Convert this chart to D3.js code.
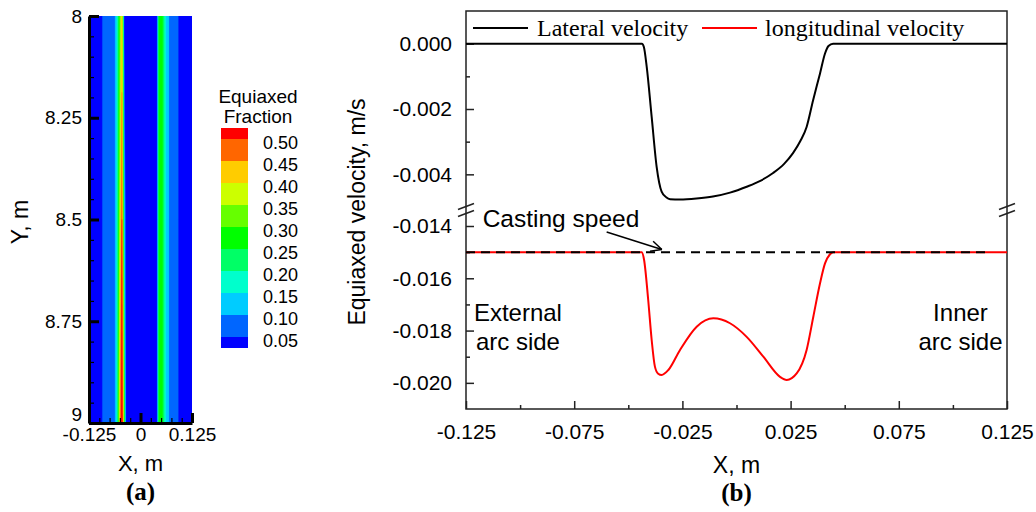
<!DOCTYPE html>
<html>
<head>
<meta charset="utf-8">
<script src="https://cdn.jsdelivr.net/npm/d3@7"></script>
<style>
  html, body { margin: 0; padding: 0; background: #fff; }
  svg { display: block; }
  text { font-family: "Liberation Sans", Arial, sans-serif; fill: #000; }
  .serif { font-family: "Liberation Serif", "Times New Roman", serif; }
</style>
</head>
<body>
<svg id="fig" width="1036" height="512"></svg>
<script>
// ---------------- Panel (a): equiaxed fraction field ----------------
// Field sampled on a regular grid: x from -0.125 m in 0.005 m steps, rows at Y = 8, 8.5, 9 m
const fieldXStart = -0.125;
const fieldXStep = 0.005;
const fieldRowsY = [8, 8.5, 9];
const fractionY8 = [
  0.03, 0.03, 0.03, 0.03, 0.03, 0.035, 0.04, 0.06, 0.07, 0.075, 0.08, 0.085, 0.09, 0.105, 0.20, 0.31, 0.42, 0.04,
  0.02, 0.02, 0.02, 0.02, 0.02, 0.02, 0.02, 0.02, 0.02, 0.02, 0.02, 0.02, 0.02, 0.02, 0.02, 0.02,
  0.28, 0.28, 0.24, 0.16, 0.12, 0.095, 0.08, 0.075, 0.07, 0.055, 0.04, 0.03, 0.03, 0.03, 0.03, 0.03, 0.03
];
const fractionY85 = [
  0.03, 0.03, 0.03, 0.03, 0.03, 0.035, 0.04, 0.06, 0.07, 0.075, 0.08, 0.085, 0.09, 0.105, 0.21, 0.36, 0.50, 0.15,
  0.02, 0.02, 0.02, 0.02, 0.02, 0.02, 0.02, 0.02, 0.02, 0.02, 0.02, 0.02, 0.02, 0.02, 0.02, 0.02,
  0.28, 0.28, 0.24, 0.16, 0.12, 0.095, 0.08, 0.075, 0.07, 0.055, 0.04, 0.03, 0.03, 0.03, 0.03, 0.03, 0.03
];
const fractionY9 = [
  0.03, 0.03, 0.03, 0.03, 0.03, 0.035, 0.04, 0.06, 0.07, 0.075, 0.08, 0.085, 0.09, 0.105, 0.22, 0.42, 0.56, 0.30,
  0.02, 0.02, 0.02, 0.02, 0.02, 0.02, 0.02, 0.02, 0.02, 0.02, 0.02, 0.02, 0.02, 0.02, 0.02, 0.02,
  0.28, 0.28, 0.24, 0.16, 0.12, 0.095, 0.08, 0.075, 0.07, 0.055, 0.04, 0.03, 0.03, 0.03, 0.03, 0.03, 0.03
];
const fractionLevels = [0.05, 0.10, 0.15, 0.20, 0.25, 0.30, 0.35, 0.40, 0.45, 0.50];
// colour of the band below the first level, then of each band above a level
const fractionColors = ["#0000ff", "#0066ff", "#00ccff", "#00ffcc", "#00ff66", "#00ff00",
                        "#66ff00", "#ccff00", "#ffcc00", "#ff6600", "#ff0000"];
const fieldXTicks = [-0.125, 0, 0.125];
const fieldXMinor = [-0.1, -0.075, -0.05, -0.025, 0.025, 0.05, 0.075, 0.1];
const fieldYTicks = [8, 8.25, 8.5, 8.75, 9];
const fieldYMinor = [8.05, 8.1, 8.15, 8.2, 8.3, 8.35, 8.4, 8.45, 8.55, 8.6, 8.65, 8.7, 8.8, 8.85, 8.9, 8.95];

// ---------------- Panel (b): velocity profiles ----------------
const lateralX = [-0.125, -0.045, -0.0437, -0.0428, -0.0415, -0.0392, -0.0369, -0.0346, -0.0325, -0.0307,
  -0.0261, -0.0185, -0.0109, -0.003, 0.0047, 0.011, 0.0169, 0.022, 0.0261, 0.0295, 0.0324, 0.0354,
  0.0386, 0.0409, 0.0425, 0.0446, 0.125];
const lateralV = [0, 0, 0, -0.0001, -0.0007, -0.00224, -0.00377, -0.00453, -0.0047, -0.00476,
  -0.00477, -0.00474, -0.00468, -0.00456, -0.00438, -0.0042, -0.00396, -0.00368, -0.00335, -0.00298, -0.00255, -0.00173,
  -0.00091, -0.0003, -0.00007, 0, 0];
const longitudinalX = [-0.125, -0.0438, -0.0427, -0.0408, -0.0392, -0.0377, -0.0362, -0.0346, -0.0315, -0.0261,
  -0.0184, -0.0107, -0.003, 0.0047, 0.0124, 0.0201, 0.0232, 0.0278, 0.0324, 0.0355, 0.0386, 0.0409,
  0.0432, 0.0447, 0.125];
const longitudinalV = [-0.015, -0.015, -0.0153, -0.01683, -0.01836, -0.01938, -0.01965, -0.0197, -0.01951, -0.01874,
  -0.01785, -0.01753, -0.01772, -0.01824, -0.019, -0.01977, -0.01989, -0.01964, -0.01874, -0.01747, -0.01619, -0.01543,
  -0.01508, -0.015, -0.015];
const castingSpeed = -0.015;
const castingSpeedXEnd = 0.117;
const velXTicks = [-0.125, -0.075, -0.025, 0.025, 0.075, 0.125];
const velXMinor = [-0.1, -0.05, 0, 0.05, 0.1];
const velTopTicks = [0, -0.002, -0.004];
const velTopMinor = [-0.001, -0.003];
const velBotTicks = [-0.014, -0.016, -0.018, -0.020];
const velBotMinor = [-0.015, -0.017, -0.019];
const seriesNames = ["Lateral velocity", "longitudinal velocity"];
const seriesColors = ["#000000", "#ff0000"];

const svg = d3.select("#fig");
svg.append("rect").attr("width", 1036).attr("height", 512).attr("fill", "#fff");

// ===== Panel (a) =====
const A = { left: 89, right: 192, top: 16, bottom: 423 };
const xA = d3.scaleLinear().domain([-0.125, 0.125]).range([A.left, A.right]);
const yA = d3.scaleLinear().domain([8, 9]).range([A.top, A.bottom]);

svg.append("clipPath").attr("id", "clipA")
  .append("rect").attr("x", A.left).attr("y", A.top)
  .attr("width", A.right - A.left).attr("height", A.bottom - A.top);

const gField = svg.append("g").attr("clip-path", "url(#clipA)");
gField.append("rect").attr("x", A.left).attr("y", A.top)
  .attr("width", A.right - A.left).attr("height", A.bottom - A.top)
  .attr("fill", fractionColors[0]);

const nx = fractionY8.length, ny = fieldRowsY.length;
const fieldValues = [].concat(fractionY8, fractionY85, fractionY9);
const bands = d3.contours().size([nx, ny]).thresholds(fractionLevels)(fieldValues);
const rowStep = fieldRowsY[1] - fieldRowsY[0];
const gridToPlot = d3.geoTransform({
  point(gx, gy) {
    this.stream.point(xA(fieldXStart + (gx - 0.5) * fieldXStep),
                      yA(fieldRowsY[0] + (gy - 0.5) * rowStep));
  }
});
const fieldPath = d3.geoPath(gridToPlot);
gField.selectAll("path.band").data(bands).join("path")
  .attr("class", "band")
  .attr("d", fieldPath)
  .attr("fill", (d, i) => fractionColors[i + 1])
  .attr("stroke", (d, i) => fractionColors[i + 1])
  .attr("stroke-width", 0.3);

// axes of (a)
const axA = svg.append("g");
const yAxisA = d3.axisLeft(yA).tickValues(fieldYTicks).tickSizeInner(-10).tickSizeOuter(0)
  .tickPadding(7).tickFormat(d => String(d));
const gyA = axA.append("g").attr("transform", `translate(${A.left},0)`).call(yAxisA);
gyA.selectAll(".tick line").attr("stroke", "#000").attr("stroke-width", 3);
// lift the bottom label so it clears the x tick labels
gyA.selectAll(".tick text").filter(d => d === 9).attr("dy", "-0.15em");
axA.append("g").attr("transform", `translate(${A.left},0)`)
  .call(d3.axisLeft(yA).tickValues(fieldYMinor).tickSizeInner(-5).tickSizeOuter(0).tickFormat(() => ""))
  .call(g => g.select(".domain").remove())
  .selectAll(".tick line").attr("stroke", "#000").attr("stroke-width", 1.2);
const xAxisA = d3.axisBottom(xA).tickValues(fieldXTicks).tickSizeInner(-10).tickSizeOuter(0)
  .tickPadding(5).tickFormat(d => d === 0 ? "0" : d.toFixed(3));
const gxA = axA.append("g").attr("transform", `translate(0,${A.bottom})`).call(xAxisA);
gxA.selectAll(".tick line").attr("stroke", "#000").attr("stroke-width", 3);
axA.append("g").attr("transform", `translate(0,${A.bottom})`)
  .call(d3.axisBottom(xA).tickValues(fieldXMinor).tickSizeInner(-5).tickSizeOuter(0).tickFormat(() => ""))
  .call(g => g.select(".domain").remove())
  .selectAll(".tick line").attr("stroke", "#000").attr("stroke-width", 1.2);
[gyA, gxA].forEach(g => {
  g.select(".domain").attr("stroke", "#000").attr("stroke-width", 3);
  g.selectAll("text").attr("font-size", 19).attr("font-family", "Liberation Sans, Arial, sans-serif");
});

svg.append("text").attr("x", (A.left + A.right) / 2).attr("y", 471)
  .attr("text-anchor", "middle").attr("font-size", 22).text("X, m");
svg.append("text").attr("transform", `translate(28,222) rotate(-90)`)
  .attr("text-anchor", "middle").attr("font-size", 23).text("Y, m");
svg.append("text").attr("class", "serif").attr("x", (A.left + A.right) / 2).attr("y", 500)
  .attr("text-anchor", "middle").attr("font-size", 25).attr("font-weight", "bold").text("(a)");

// colour bar of (a)
const cbY = d3.scaleLinear().domain([0.025, 0.525]).range([348, 128]);
const cbEdges = [0.025].concat(fractionLevels, [0.525]);
const gcb = svg.append("g");
gcb.selectAll("rect").data(fractionColors).join("rect")
  .attr("x", 221).attr("width", 27)
  .attr("y", (c, i) => cbY(cbEdges[i + 1]))
  .attr("height", (c, i) => cbY(cbEdges[i]) - cbY(cbEdges[i + 1]))
  .attr("fill", c => c);
gcb.selectAll("text.lvl").data(fractionLevels).join("text")
  .attr("class", "lvl").attr("x", 263).attr("y", d => cbY(d) + 10)
  .attr("font-size", 18).text(d => d.toFixed(2));
gcb.append("text").attr("x", 258).attr("y", 103).attr("text-anchor", "middle")
  .attr("font-size", 19).text("Equiaxed");
gcb.append("text").attr("x", 258).attr("y", 123).attr("text-anchor", "middle")
  .attr("font-size", 19).text("Fraction");

// ===== Panel (b) =====
const B = { left: 466, right: 1007, top: 11, bottom: 409 };
const xB = d3.scaleLinear().domain([-0.125, 0.125]).range([B.left, B.right]);
const yTop = d3.scaleLinear().domain([-0.005, 0.001]).range([207, B.top]);
const yBot = d3.scaleLinear().domain([-0.021, -0.014]).range([B.bottom, 226]);
const breakY = yTop(-0.005) + 3;

svg.append("rect").attr("x", B.left).attr("y", B.top)
  .attr("width", B.right - B.left).attr("height", B.bottom - B.top)
  .attr("fill", "none").attr("stroke", "#222").attr("stroke-width", 1.5);

const fmt3 = d => d.toFixed(3);
function styleAxis(g, size) {
  g.select(".domain").remove();
  g.selectAll(".tick line").attr("stroke", "#222").attr("stroke-width", 1.5);
  g.selectAll("text").attr("font-size", size).attr("font-family", "Liberation Sans, Arial, sans-serif");
}
svg.append("g").attr("transform", `translate(${B.left},0)`)
  .call(d3.axisLeft(yTop).tickValues(velTopTicks).tickSizeInner(-8).tickSizeOuter(0).tickPadding(14).tickFormat(fmt3))
  .call(g => styleAxis(g, 21));
svg.append("g").attr("transform", `translate(${B.left},0)`)
  .call(d3.axisLeft(yTop).tickValues(velTopMinor).tickSizeInner(-4).tickSizeOuter(0).tickFormat(() => ""))
  .call(g => styleAxis(g, 21));
svg.append("g").attr("transform", `translate(${B.left},0)`)
  .call(d3.axisLeft(yBot).tickValues(velBotTicks).tickSizeInner(-8).tickSizeOuter(0).tickPadding(14).tickFormat(fmt3))
  .call(g => styleAxis(g, 21));
svg.append("g").attr("transform", `translate(${B.left},0)`)
  .call(d3.axisLeft(yBot).tickValues(velBotMinor).tickSizeInner(-4).tickSizeOuter(0).tickFormat(() => ""))
  .call(g => styleAxis(g, 21));
svg.append("g").attr("transform", `translate(0,${B.bottom})`)
  .call(d3.axisBottom(xB).tickValues(velXTicks).tickSizeInner(-8).tickSizeOuter(0).tickPadding(15).tickFormat(fmt3))
  .call(g => styleAxis(g, 21));
svg.append("g").attr("transform", `translate(0,${B.bottom})`)
  .call(d3.axisBottom(xB).tickValues(velXMinor).tickSizeInner(-4).tickSizeOuter(0).tickFormat(() => ""))
  .call(g => styleAxis(g, 21));

// axis break marks on both vertical axes
[B.left, B.right].forEach(ax => {
  [-3.5, 3.5].forEach(off => {
    svg.append("line")
      .attr("x1", ax - 8).attr("y1", breakY + off + 3)
      .attr("x2", ax + 8).attr("y2", breakY + off - 3)
      .attr("stroke", "#222").attr("stroke-width", 1.5);
  });
});

// curves
const lateralLine = d3.line().x(d => xB(d[0])).y(d => yTop(d[1])).curve(d3.curveMonotoneX);
const longitudinalLine = d3.line().x(d => xB(d[0])).y(d => yBot(d[1])).curve(d3.curveMonotoneX);
svg.append("path").datum(d3.zip(lateralX, lateralV)).attr("d", lateralLine)
  .attr("fill", "none").attr("stroke", seriesColors[0]).attr("stroke-width", 2);
svg.append("path").datum(d3.zip(longitudinalX, longitudinalV)).attr("d", longitudinalLine)
  .attr("fill", "none").attr("stroke", seriesColors[1]).attr("stroke-width", 2);

// casting speed reference
svg.append("line")
  .attr("x1", xB(-0.125)).attr("x2", xB(castingSpeedXEnd))
  .attr("y1", yBot(castingSpeed)).attr("y2", yBot(castingSpeed))
  .attr("stroke", "#000").attr("stroke-width", 2).attr("stroke-dasharray", "9,6");

// annotation arrow
const arrowFrom = [xB(-0.0600), yBot(-0.01423)];
const arrowTo = [xB(-0.0345), yBot(-0.0149)];
svg.append("line").attr("x1", arrowFrom[0]).attr("y1", arrowFrom[1])
  .attr("x2", arrowTo[0]).attr("y2", arrowTo[1]).attr("stroke", "#000").attr("stroke-width", 1.5);
const ang = Math.atan2(arrowTo[1] - arrowFrom[1], arrowTo[0] - arrowFrom[0]);
[0.45, -0.45].forEach(da => {
  svg.append("line").attr("x1", arrowTo[0]).attr("y1", arrowTo[1])
    .attr("x2", arrowTo[0] - 12 * Math.cos(ang + da)).attr("y2", arrowTo[1] - 12 * Math.sin(ang + da))
    .attr("stroke", "#000").attr("stroke-width", 1.5);
});

svg.append("text").attr("x", xB(-0.1173)).attr("y", yBot(-0.01403))
  .attr("font-size", 24.5).text("Casting speed");
const sideLabels = [
  { x: -0.101, lines: ["External", "arc side"] },
  { x: 0.1035, lines: ["Inner", "arc side"] }
];
sideLabels.forEach(s => {
  s.lines.forEach((t, k) => {
    svg.append("text").attr("x", xB(s.x)).attr("y", yBot(-0.01764) + k * 29)
      .attr("text-anchor", "middle").attr("font-size", 24).text(t);
  });
});

// legend
const legendItems = [{ x0: 473, x1: 528, tx: 537 }, { x0: 702, x1: 757, tx: 765 }];
legendItems.forEach((it, i) => {
  svg.append("line").attr("x1", it.x0).attr("x2", it.x1).attr("y1", 28).attr("y2", 28)
    .attr("stroke", seriesColors[i]).attr("stroke-width", 2);
  svg.append("text").attr("class", "serif").attr("x", it.tx).attr("y", 36)
    .attr("font-size", 24).text(seriesNames[i]);
});

// axis titles
svg.append("text").attr("transform", `translate(365,212) rotate(-90)`)
  .attr("text-anchor", "middle").attr("font-size", 23).text("Equiaxed velocity, m/s");
svg.append("text").attr("x", (B.left + B.right) / 2).attr("y", 473)
  .attr("text-anchor", "middle").attr("font-size", 23).text("X, m");
svg.append("text").attr("class", "serif").attr("x", (B.left + B.right) / 2).attr("y", 501)
  .attr("text-anchor", "middle").attr("font-size", 25).attr("font-weight", "bold").text("(b)");
</script>
</body>
</html>
